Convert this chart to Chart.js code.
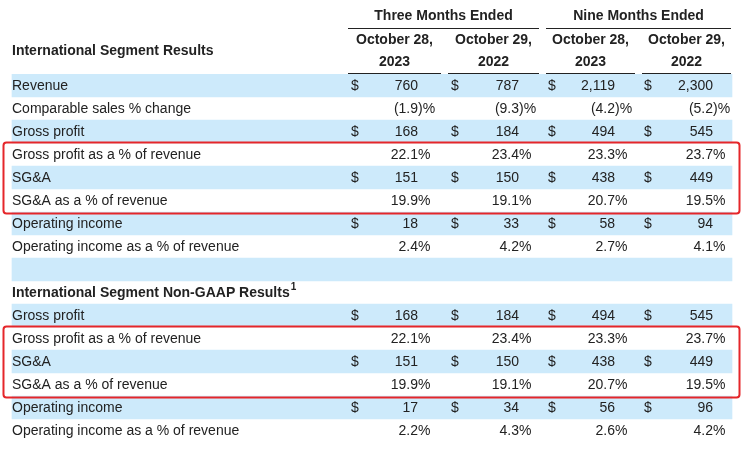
<!DOCTYPE html>
<html>
<head>
    <title>International Segment Results</title>
    <script src="https://cdn.jsdelivr.net/npm/chart.js"></script>
    <style>
        body { margin: 0; background: #fff; }
        #wrap { width: 746px; height: 451px; }
    </style>
</head>
<body>
    <div id="wrap"><canvas id="myChart"></canvas></div>
    <script>
        // table rows, top to bottom
        const rowLabels = [
            'Revenue', 'Comparable sales % change', 'Gross profit', 'Gross profit as a % of revenue',
            'SG&A', 'SG&A as a % of revenue', 'Operating income', 'Operating income as a % of revenue',
            '', 'International Segment Non-GAAP Results',
            'Gross profit', 'Gross profit as a % of revenue', 'SG&A', 'SG&A as a % of revenue',
            'Operating income', 'Operating income as a % of revenue'
        ];
        // usd = dollar amount, pct = percentage, blank/head = no values
        const rowKinds = ['usd', 'pct', 'usd', 'pct', 'usd', 'pct', 'usd', 'pct',
            'blank', 'head', 'usd', 'pct', 'usd', 'pct', 'usd', 'pct'];
        const shadedRows = [0, 2, 4, 6, 8, 10, 12, 14];
        const boxedRows = [[3, 5], [11, 13]];

        const periodGroups = ['Three Months Ended', 'Nine Months Ended'];
        const periodLabels = ['October 28,', 'October 29,', 'October 28,', 'October 29,'];
        const periodYears = ['2023', '2022', '2023', '2022'];

        const threeMonths2023 = [760, -1.9, 168, 22.1, 151, 19.9, 18, 2.4, null, null, 168, 22.1, 151, 19.9, 17, 2.2];
        const threeMonths2022 = [787, -9.3, 184, 23.4, 150, 19.1, 33, 4.2, null, null, 184, 23.4, 150, 19.1, 34, 4.3];
        const nineMonths2023 = [2119, -4.2, 494, 23.3, 438, 20.7, 58, 2.7, null, null, 494, 23.3, 438, 20.7, 56, 2.6];
        const nineMonths2022 = [2300, -5.2, 545, 23.7, 449, 19.5, 94, 4.1, null, null, 545, 23.7, 449, 19.5, 96, 4.2];
        const columns = [threeMonths2023, threeMonths2022, nineMonths2023, nineMonths2022];

        // layout in x-scale units (the x scale runs 0..746 across the canvas)
        const colSpans = [[348, 441], [448, 539], [546, 635], [642, 731]];
        const dollarX = [351, 451, 548, 644];
        const valueRight = [418, 519, 615, 713];
        const bandSpan = [12, 732];

        const FONT = '"Liberation Sans", Arial, sans-serif';
        const TEXT = '#222';

        function fmt(v, kind) {
            if (kind === 'usd') return { main: v.toLocaleString('en-US'), tail: '' };
            if (v < 0) return { main: '(' + Math.abs(v).toFixed(1), tail: ')%' };
            return { main: v.toFixed(1), tail: '%' };
        }

        const tablePlugin = {
            id: 'tableText',
            afterDatasetsDraw(chart) {
                const c = chart.ctx;
                const xs = chart.scales.x;
                const ys = chart.scales.y;
                const X = v => xs.getPixelForValue(v);
                const rowH = Math.abs(ys.getPixelForValue(1) - ys.getPixelForValue(0));
                c.save();
                c.textBaseline = 'middle';
                c.fillStyle = TEXT;

                // column headers
                c.font = 'bold 14px ' + FONT;
                c.textAlign = 'center';
                c.fillText(periodGroups[0], (X(colSpans[0][0]) + X(colSpans[1][1])) / 2, 16);
                c.fillText(periodGroups[1], (X(colSpans[2][0]) + X(colSpans[3][1])) / 2, 16);
                periodLabels.forEach((lab, i) => {
                    const cx = (X(colSpans[i][0]) + X(colSpans[i][1])) / 2;
                    c.fillText(lab, cx, 40);
                    c.fillText(periodYears[i], cx, 62);
                });
                c.strokeStyle = '#222';
                c.lineWidth = 1;
                c.beginPath();
                c.moveTo(X(colSpans[0][0]), 28.5); c.lineTo(X(colSpans[1][1]), 28.5);
                c.moveTo(X(colSpans[2][0]), 28.5); c.lineTo(X(colSpans[3][1]), 28.5);
                colSpans.forEach(s => { c.moveTo(X(s[0]), 73.5); c.lineTo(X(s[1]), 73.5); });
                c.stroke();

                c.textAlign = 'left';
                c.fillText('International Segment Results', 12, 51);

                // body rows
                rowLabels.forEach((lab, r) => {
                    const y = ys.getPixelForValue(r) + 1;
                    const kind = rowKinds[r];
                    c.textAlign = 'left';
                    if (kind === 'head') {
                        c.font = 'bold 14px ' + FONT;
                        c.fillText(lab, 12, y);
                        const w = c.measureText(lab).width;
                        c.font = 'bold 10px ' + FONT;
                        c.fillText('1', 12 + w + 1, y - 6);
                        return;
                    }
                    c.font = '14px ' + FONT;
                    c.fillText(lab, 12, y);
                    if (kind === 'blank') return;
                    columns.forEach((col, i) => {
                        const v = col[r];
                        if (v === null) return;
                        const s = fmt(v, kind);
                        if (kind === 'usd') {
                            c.textAlign = 'left';
                            c.fillText('$', X(dollarX[i]), y);
                        }
                        c.textAlign = 'right';
                        c.fillText(s.main, X(valueRight[i]), y);
                        if (s.tail) {
                            c.textAlign = 'left';
                            c.fillText(s.tail, X(valueRight[i]), y);
                        }
                    });
                });

                // red highlight boxes
                c.strokeStyle = '#e5262a';
                c.lineWidth = 2;
                boxedRows.forEach(([a, b]) => {
                    const top = ys.getPixelForValue(a) - rowH / 2 - 0.5;
                    const bot = ys.getPixelForValue(b) + rowH / 2 + 1.5;
                    c.beginPath();
                    c.roundRect(3.5, top, 736, bot - top, 3);
                    c.stroke();
                });
                c.restore();
            }
        };

        const ctx = document.getElementById('myChart').getContext('2d');
        const myChart = new Chart(ctx, {
            type: 'bar',
            data: {
                labels: rowLabels,
                datasets: [{
                    label: 'shading',
                    data: rowLabels.map((_, i) => shadedRows.includes(i) ? bandSpan : null),
                    backgroundColor: '#cdeafb',
                    borderWidth: 0,
                    barPercentage: 1,
                    categoryPercentage: 1
                }]
            },
            options: {
                indexAxis: 'y',
                responsive: true,
                maintainAspectRatio: false,
                animation: false,
                layout: { padding: { top: 74, bottom: 9, left: 0, right: 0 } },
                plugins: { legend: { display: false }, tooltip: { enabled: false } },
                scales: {
                    x: { type: 'linear', min: 0, max: 746, display: false },
                    y: { display: false, grid: { display: false } }
                }
            },
            plugins: [tablePlugin]
        });
    </script>
</body>
</html>
